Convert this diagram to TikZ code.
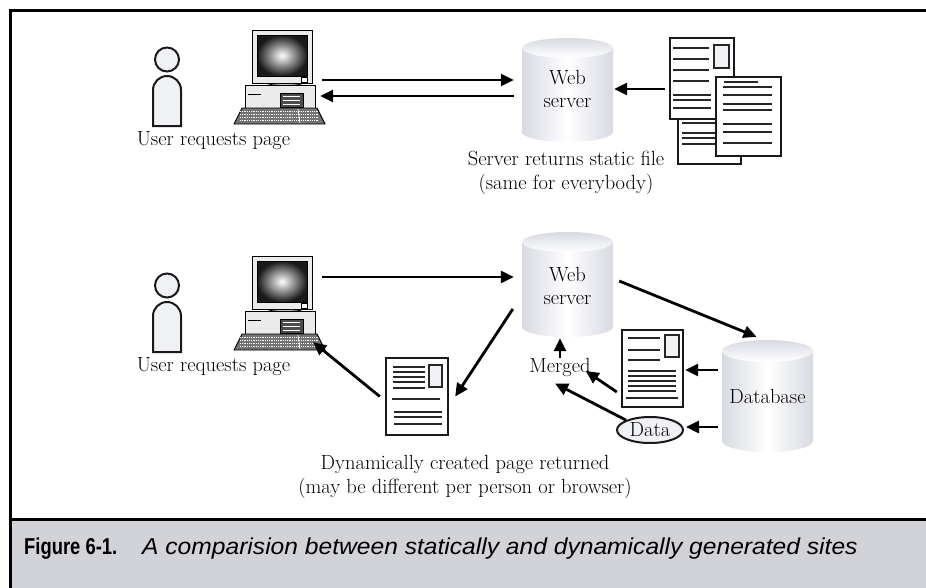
\documentclass[tikz,border=0pt]{standalone}
\usepackage{fontspec}
\newfontfamily\capsans[FakeStretch=1.07]{Liberation Sans}
\newfontfamily\capbold[FakeStretch=0.8]{Liberation Sans Bold}
\usetikzlibrary{arrows.meta,calc,shapes.geometric}
\definecolor{capgray}{RGB}{210,211,216}
\definecolor{figfill}{RGB}{240,241,245}
\definecolor{cylside}{RGB}{216,218,226}
\tikzset{
  arr/.style={line width=2.8pt,-{Triangle[length=13pt,width=12pt]}},
  anchorbox/.style={draw=none,inner sep=0pt,rectangle},
  lbl/.style={font=\fontsize{20.5}{23.5}\selectfont,align=center,inner sep=0pt},
  docframe/.style={draw=black!90,line width=2.6pt,fill=white},
  docline/.style={line width=2pt,draw=black!85},
  docbox/.style={draw=black!85,line width=2.2pt,fill=figfill},
  figline/.style={draw=black!90,line width=2pt,fill=figfill},
}
% person figure: head centre x #1, body top y #2
\newcommand{\personfig}[2]{%
  \draw[figline] (#1,#2-16.5) circle[radius=12];
  \draw[figline] (#1-14,#2+50) -- (#1-14,#2+14)
     arc[start angle=180,end angle=360,radius=14] -- (#1+14,#2+50) -- cycle;
}
% desktop computer, top-left corner at (#1,#2)
\newcommand{\computerfig}[2]{%
  \begin{scope}[shift={(#1,#2)}]
    % monitor
    \draw[fill=black!8,line width=0.9pt] (18,0) rectangle (78,53);
    \shade[inner color=white,outer color=black!90] (23,5) rectangle (73,46);
    \draw[line width=0.5pt] (23,5) rectangle (73,46);
    \draw[fill=white,line width=0.5pt] (67,47) rectangle (73,52);
    % stand
    \draw[fill=black!25,line width=0.7pt] (51,57) ellipse[x radius=20,y radius=3.5];
    % system unit
    \draw[fill=black!8,line width=0.9pt] (11,55) rectangle (81,78);
    \draw[fill=black!70,line width=0.5pt] (46,63) rectangle (69,77);
    \foreach \yy in {66,70,74} \draw[white,line width=0.8pt] (49,\yy) -- (66,\yy);
    \draw[line width=0.6pt] (14,64) -- (27,64);
    % keyboard
    \draw[fill=black!55,line width=0.9pt] (8,78) -- (83,78) -- (91,94) -- (0,94) -- cycle;
    \foreach \yy in {81,84,87,90} \draw[white,line width=0.6pt,dash pattern=on 1pt off 0.8pt] (6,\yy) -- (84,\yy);
    \draw[white,line width=0.7pt] (64,79) -- (66,93);
  \end{scope}
}
% cylinder between x #1 and #2, top at #3, bottom at #4, ellipse radius #5
\newcommand{\cylfig}[5]{%
  \shade[left color=cylside,right color=cylside,middle color=white]
    (#1,#3+#5) -- (#1,#4-#5)
    arc[start angle=180,end angle=0,x radius={(#2-#1)/2},y radius=#5]
    -- (#2,#3+#5) -- cycle;
  \shade[top color=cylside,bottom color=white]
    ({(#1+#2)/2},#3+#5) ellipse[x radius={(#2-#1)/2},y radius=#5];
}
\begin{document}
\begin{tikzpicture}[x=1pt,y=-1pt]
\useasboundingbox (0,0) rectangle (926,587);
% frame and caption band
\fill[white] (0,0) rectangle (926,587);
\fill[capgray] (10.5,521) rectangle (930,590);
\draw[line width=3pt] (10.5,600) -- (10.5,10.5) -- (930,10.5);
\draw[line width=3pt] (10.5,519.5) -- (930,519.5);
\node[anchor=base west,inner sep=0pt] (capnum) at (24,554)
  {\fontsize{23}{26}\selectfont\capbold Figure 6-1.};
\node[anchor=base west,inner sep=0pt] (captext) at (142,554)
  {\fontsize{23}{26}\selectfont\capsans\itshape A comparision between statically and dynamically generated sites};

% ---------- static site ----------
\personfig{167}{76}
\computerfig{234}{30}
\node[anchorbox,minimum width=91pt,minimum height=94pt] (pc1) at (279.5,77) {};
\node[lbl] (u1) at (213.5,141) {User requests page};

\cylfig{522}{613}{38}{142}{10}
\node[anchorbox,minimum width=91pt,minimum height=104pt] (ws1) at (567.5,90) {};
\node[lbl] (ws1t) at (567.5,89) {Web\\server};
\node[lbl] (s1) at (566,173) {Server returns static file\\(same for everybody)};

% stack of static pages
\draw[docframe] (678,100) rectangle (741,164);
\foreach \yy in {123,133,138,144} \draw[docline] (682,\yy) -- (716,\yy);
\draw[docframe] (670,38) rectangle (734,119);
\foreach \yy in {48,59,70,81} \draw[docline] (673,\yy) -- (709,\yy);
\foreach \yy in {95,100,108} \draw[docline] (673,\yy) -- (711,\yy);
\draw[docbox] (714,45) rectangle (729,68);
\draw[docframe] (716,77) rectangle (781,156);
\draw[docline] (724,82) -- (758,82);
\foreach \yy in {87,95,104,110,124,132,143} \draw[docline] (723,\yy) -- (772,\yy);
\node[anchorbox,minimum width=111pt,minimum height=126pt] (docs1) at (725.5,101) {};

\draw[arr,shorten >=8pt] ([xshift=-3pt,yshift=-3pt]pc1.east) -- ([yshift=10pt]ws1.west);
\draw[arr,shorten <=8pt] ([yshift=-6pt]ws1.west) -- ([xshift=-5pt,yshift=-19pt]pc1.east);
\draw[arr,shorten <=5pt,shorten >=1pt] ([yshift=12pt]docs1.west) -- ([yshift=1pt]ws1.east);

% ---------- dynamic site ----------
\personfig{167}{302}
\computerfig{234}{256}
\node[anchorbox,minimum width=91pt,minimum height=94pt] (pc2) at (279.5,303) {};
\node[lbl] (u2) at (213.5,367) {User requests page};

\cylfig{522}{613}{232}{337}{10}
\node[anchorbox,minimum width=91pt,minimum height=105pt] (ws2) at (567.5,284.5) {};
\node[lbl] (ws2t) at (567.5,286) {Web\\server};

\cylfig{722}{813}{340}{452}{11}
\node[anchorbox,minimum width=91pt,minimum height=112pt] (db) at (767.5,396) {};
\node[lbl] (dbt) at (767.5,396) {Database};

% template page read from the database
\draw[docframe] (622,330) rectangle (683,407);
\foreach \yy in {338,350,360} \draw[docline] (628,\yy) -- (660,\yy);
\draw[docbox] (665,335) rectangle (679,357);
\foreach \yy in {371,376,381,386,391} \draw[docline] (628,\yy) -- (676,\yy);
\draw[docline] (626,398) -- (678,398);
\node[anchorbox,minimum width=61pt,minimum height=77pt] (doc2) at (652.5,368.5) {};

\node[draw=black!90,line width=2pt,fill=figfill,ellipse,minimum width=66pt,minimum height=26pt,inner sep=0pt,
  font=\fontsize{20.5}{23.5}\selectfont] (data) at (650,430) {Data};

\node[lbl,inner sep=1pt] (merged) at (560,367) {Merged};

% returned page
\draw[docframe] (386,358) rectangle (448,435);
\foreach \yy in {367,372,377,382,388} \draw[docline] (393,\yy) -- (425,\yy);
\draw[docbox] (429,365) rectangle (442,387);
\draw[docline] (392,399) -- (440,399);
\foreach \yy in {412,417,424} \draw[docline] (394,\yy) -- (442,\yy);
\node[anchorbox,minimum width=62pt,minimum height=77pt] (doc3) at (417,396.5) {};

\node[lbl] (d1) at (465,477) {Dynamically created page returned\\(may be different per person or browser)};

\draw[arr,shorten >=8pt] ([xshift=-3pt,yshift=26pt]pc2.east) -- ([yshift=7.5pt]ws2.west);
\draw[arr] ([xshift=6pt,yshift=3.5pt]ws2.east) -- ([xshift=-11pt,yshift=3pt]db.north);
\draw[arr,shorten <=4pt,shorten >=2pt] ([yshift=26pt]db.west) -- ([yshift=-1.5pt]doc2.east);
\draw[arr,shorten <=4pt,shorten >=2pt] ([yshift=-31pt]db.west) -- ([yshift=3pt]data.east);
\draw[arr,shorten >=1pt] ([yshift=-1pt]merged.north) -- (merged.north |- ws2.south);
\draw[arr] ([xshift=-5pt,yshift=-23.5pt]doc2.west) -- ([xshift=-6pt,yshift=-4pt]merged.east);
\draw[arr] (data.north west) -- ([xshift=-5pt,yshift=-6pt]merged.south);
\draw[arr] ([xshift=-9pt,yshift=-24.5pt]ws2.west) -- ([xshift=7pt]doc3.east);
\draw[arr] ([xshift=-6pt]doc3.west) -- ([xshift=-12pt,yshift=8pt]pc2.south east);
\end{tikzpicture}
\end{document}
